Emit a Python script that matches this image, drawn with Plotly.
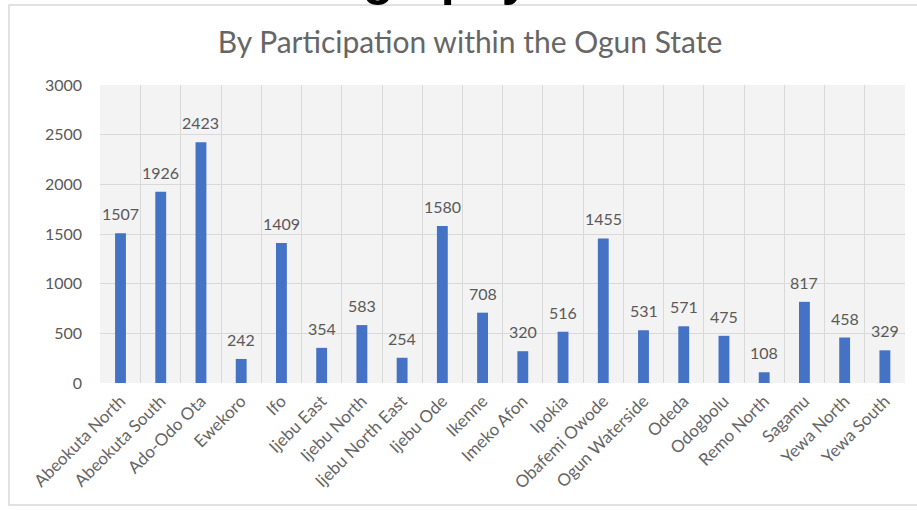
import plotly.graph_objects as go

# Participation counts per local government area
areas = [
    "Abeokuta North", "Abeokuta South", "Ado-Odo Ota", "Ewekoro", "Ifo",
    "Ijebu East", "Ijebu North", "Ijebu North East", "Ijebu Ode", "Ikenne",
    "Imeko Afon", "Ipokia", "Obafemi Owode", "Ogun Waterside", "Odeda",
    "Odogbolu", "Remo North", "Sagamu", "Yewa North", "Yewa South",
]
participants = [
    1507, 1926, 2423, 242, 1409,
    354, 583, 254, 1580, 708,
    320, 516, 1455, 531, 571,
    475, 108, 817, 458, 329,
]
y_ticks = [0, 500, 1000, 1500, 2000, 2500, 3000]

W, H = 917, 510
L, R, T, B = 100, 12, 85, 127
pw, ph = W - L - R, H - T - B


def px_x(x):
    return (x - L) / pw


def px_y(y):
    return 1 - (y - T) / ph


FONT = "Lato, Open Sans, sans-serif"
GREY = "#595959"

fig = go.Figure(
    go.Bar(
        x=areas,
        y=participants,
        marker=dict(color="#4472C4", line=dict(width=0)),
        width=0.27,
        hoverinfo="x+y",
    )
)

# value labels above each bar
for area, value in zip(areas, participants):
    fig.add_annotation(
        x=area, y=value, xref="x", yref="y",
        text=str(value), showarrow=False,
        yanchor="bottom", yshift=8,
        font=dict(family=FONT, size=16, color=GREY),
    )

fig.update_layout(
    width=W,
    height=H,
    margin=dict(l=L, r=R, t=T, b=B, pad=0),
    paper_bgcolor="white",
    plot_bgcolor="#f3f3f3",
    showlegend=False,
    font=dict(family=FONT, color=GREY),
    title=dict(
        text="By Participation within the Ogun State",
        x=px_x(470), xref="paper", xanchor="center",
        y=1 - 42 / H, yanchor="middle",
        font=dict(family=FONT, size=30, color="#666666"),
    ),
    xaxis=dict(
        type="category",
        tickson="boundaries",
        showgrid=True,
        gridcolor="#d9d9d9",
        gridwidth=1,
        ticks="",
        tickangle=-45,
        ticklabelstandoff=4,
        tickfont=dict(family=FONT, size=17, color="#666666"),
        showline=False,
        zeroline=False,
    ),
    yaxis=dict(
        range=[0, 3000],
        tickvals=y_ticks,
        showgrid=True,
        gridcolor="#d9d9d9",
        gridwidth=1,
        zeroline=False,
        ticks="",
        ticklabelstandoff=17,
        tickfont=dict(family=FONT, size=16, color=GREY),
        showline=False,
    ),
)

# chart frame
fig.add_shape(
    type="rect", xref="paper", yref="paper",
    x0=px_x(9), x1=px_x(930), y0=px_y(505), y1=px_y(5),
    line=dict(color="#d9d9d9", width=1.5), fillcolor="rgba(0,0,0,0)",
    layer="below",
)

# page heading above the chart frame
fig.add_annotation(
    text="<b>Demography</b>",
    xref="paper", yref="paper",
    x=px_x(532), xanchor="right",
    y=px_y(8), yanchor="bottom",
    showarrow=False,
    font=dict(family="Liberation Sans, Arial, sans-serif", size=50, color="black"),
)

fig.write_html("out.html")
